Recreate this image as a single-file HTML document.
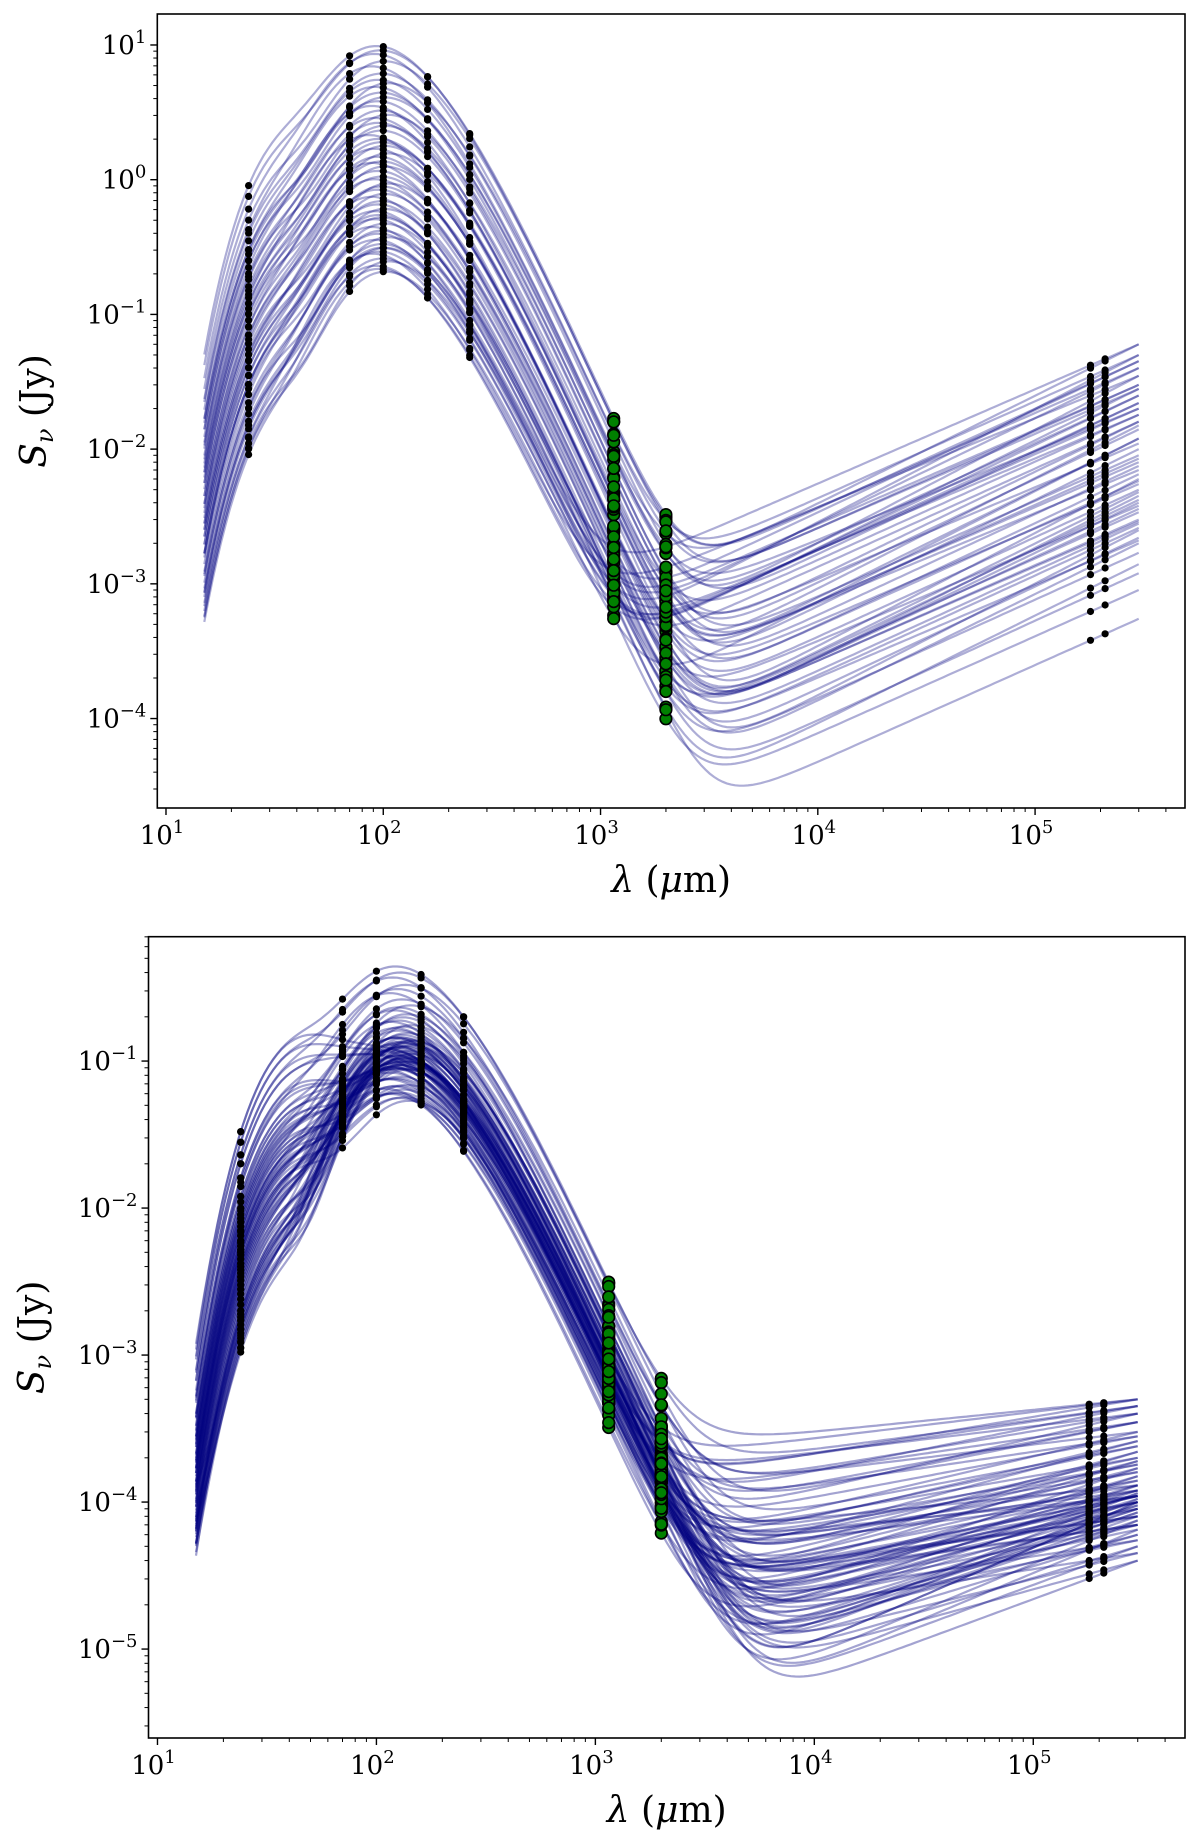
<!DOCTYPE html>
<html><head><meta charset="utf-8"><style>
html,body{margin:0;padding:0;background:#fff;}
svg{display:block;font-family:"DejaVu Serif","Liberation Serif",serif;}
</style></head><body>
<svg id="fig" width="1200" height="1848" viewBox="0 0 1200 1848" xmlns="http://www.w3.org/2000/svg"></svg>
<script>
// ---------- DATA: shared ----------
const bandsBlack = [24, 70, 100, 160, 250, 1.8e5, 2.1e5];
const bandsGreen = [1150, 2000];
const xTickExps = [1, 2, 3, 4, 5];
const topYTickExps = [1, 0, -1, -2, -3, -4];
const botYTickExps = [-1, -2, -3, -4, -5];

// ---------- DATA: top panel ----------
const topPeak = [9,8.5,8,7.2,6.5,5.8,5.2,5,4.6,4.2,3.9,3.6,3.3,3.1,2.9,2.7,2.5,2.4,2.2,2.0,1.9,1.8,1.7,1.6,1.5,1.4,1.3,1.25,1.2,1.1,1.0,0.95,0.9,0.85,0.8,0.75,0.7,0.66,0.62,0.58,0.55,0.52,0.5,0.48,0.45,0.42,0.4,0.38,0.36,0.34,0.32,0.3,0.28,0.27,0.25,0.24,0.22,0.21,0.2,0.3];
const topWarm24 = [0.9,0.75,0.6,0.5,0.42,0.4,0.35,0.3,0.3,0.28,0.25,0.25,0.22,0.2,0.19,0.18,0.16,0.15,0.14,0.13,0.12,0.12,0.11,0.1,0.1,0.09,0.08,0.08,0.07,0.07,0.065,0.06,0.055,0.05,0.05,0.045,0.045,0.04,0.04,0.035,0.035,0.03,0.03,0.03,0.028,0.025,0.022,0.02,0.02,0.018,0.016,0.015,0.014,0.012,0.012,0.011,0.01,0.009,0.01,0.015];
const topRadio = [0.06,0.045,0.05,0.03,0.04,0.022,0.035,0.028,0.016,0.025,0.02,0.012,0.018,0.014,0.009,0.015,0.011,0.0075,0.01,0.0085,0.006,0.008,0.0065,0.005,0.007,0.0045,0.0058,0.004,0.0055,0.0036,0.0048,0.003,0.0042,0.0028,0.0038,0.0025,0.0034,0.0022,0.0029,0.002,0.0026,0.0017,0.0021,0.0014,0.0012,0.0009,0.00055];
const topAlpha = [0.8,0.74,0.72,0.72,0.7,0.76,0.84,0.7,0.78,0.74,0.66,0.8,0.73,0.77,0.71,0.82,0.68,0.75,0.79,0.72,0.84,0.7,0.76,0.74,0.67,0.81,0.73,0.78,0.69,0.75,0.8,0.71,0.77,0.74,0.68,0.83,0.72,0.76,0.7,0.79,0.74,0.73,0.69];
const topTemp = [31,30,32,29,33,30,31,28,32,30,29,31,33,30,28,32,31,29,30,34,31,30,29,32,28,31,30,33,29,31,30,32,28,30,31,29,33,30,31,29,32];

// ---------- DATA: bottom panel ----------
const botPeak = [0.4,0.37,0.34,0.31,0.29,0.27,0.25,0.23,0.22,0.21,0.2,0.19,0.18,0.175,0.17,0.165,0.16,0.155,0.15,0.145,0.14,0.138,0.135,0.132,0.13,0.128,0.125,0.122,0.12,0.118,0.115,0.112,0.11,0.108,0.106,0.104,0.102,0.1,0.098,0.096,0.094,0.092,0.09,0.088,0.086,0.084,0.082,0.08,0.078,0.076,0.075,0.074,0.072,0.07,0.069,0.068,0.066,0.065,0.064,0.062,0.06,0.059,0.058,0.056,0.055,0.054,0.053,0.052,0.051,0.05,0.12,0.11,0.1,0.095,0.09,0.13,0.14,0.085,0.105,0.115,0.125,0.135,0.092,0.087,0.097,0.103,0.108,0.117,0.127,0.142];
const botWarm24 = [0.033,0.028,0.023,0.02,0.016,0.014,0.012,0.011,0.01,0.009,0.0085,0.008,0.0075,0.007,0.0065,0.006,0.0058,0.0055,0.0052,0.005,0.0048,0.0045,0.0042,0.004,0.0038,0.0036,0.0034,0.0032,0.003,0.0028,0.0026,0.0024,0.0022,0.002,0.0019,0.0018,0.0017,0.0016,0.0015,0.0014,0.0013,0.0012,0.0011,0.001,0.015,0.0095,0.0068];
const botRadio = [0.0005,0.00045,0.0004,0.00035,0.0003,0.00028,0.00026,0.00024,0.00022,0.0002,0.00019,0.00018,0.00017,0.00016,0.00015,0.00014,0.00013,0.00012,0.000115,0.00011,0.000105,0.0001,0.000095,0.00009,0.000085,0.00008,0.000075,0.00007,0.000065,0.00006,0.000055,0.00005,0.000045,0.00004,0.00011,0.0001,0.00012,0.0001,0.00009,0.00011,0.00008,0.00013,0.00007];
const botAlpha = [0.15,0.2,0.25,0.3,0.18,0.22,0.35,0.28,0.4,0.32,0.45,0.26,0.38,0.3,0.5,0.24,0.42,0.34,0.5,0.29,0.6,0.36,0.44,0.27,0.5,0.33,0.48,0.21,0.62,0.39,0.31,0.45,0.23,0.55,0.37,0.41,0.19,0.65,0.46,0.3,0.5];
const botTemp = [25,24,26,23,25,27,24,22,25,26,23,24,25,27,22,24,26,25,23,24,25,26,22,24,25,23,27,24,25,26,23,24,22,25,26,24,25];

// ---------- drawing ----------
const NS = "http://www.w3.org/2000/svg";
const svg = document.getElementById('fig');
function mk(tag, attrs, parent){ const e=document.createElementNS(NS,tag); for(const k in attrs) e.setAttribute(k,attrs[k]); (parent||svg).appendChild(e); return e; }

function mbbRaw(lam,T,beta){ const x=14388/(lam*T); return Math.pow(x,3+beta)/(Math.exp(x)-1); }
function mbbMax(beta){ let m=0; for(let x=0.5;x<15;x+=0.01){ const v=Math.pow(x,3+beta)/(Math.exp(x)-1); if(v>m)m=v;} return m; }

function model(lam,i,cfg){
  const g=(a)=>a[i%a.length];
  const cold = g(cfg.peak)*mbbRaw(lam,g(cfg.temp),cfg.beta)/cfg.norm;
  const warm = g(cfg.warm)*mbbRaw(lam,cfg.tw,cfg.beta)/mbbRaw(24,cfg.tw,cfg.beta);
  const radio = g(cfg.radio)*Math.pow(lam/3e5,g(cfg.alpha));
  return cold+warm+radio;
}

function panel(cfg){
  const {name,L,R,T,B,xlo,xhi,ylo,yhi} = cfg;
  cfg.norm = mbbMax(cfg.beta);
  const sx = v => L + (Math.log10(v)-xlo)/(xhi-xlo)*(R-L);
  const sy = v => B - (Math.log10(v)-ylo)/(yhi-ylo)*(B-T);
  const g = mk('g',{});
  
  
  const cp = mk('clipPath',{id:name+'-clip'},g);
  mk('rect',{x:L,y:T,width:R-L,height:B-T},cp);
  const plot = mk('g',{'clip-path':'url(#'+name+'-clip)'},g);
  
  
  const n = cfg.peak.length;
  for(let i=0;i<n;i++){
    let d='';
    for(let k=0;k<=220;k++){
      const lam = Math.pow(10, Math.log10(15) + k/220*(Math.log10(3e5)-Math.log10(15)));
      const f = model(lam,i,cfg);
      d += (k?'L':'M')+sx(lam).toFixed(1)+' '+sy(f).toFixed(1);
    }
    const p = mk('path',{d:d,fill:'none',stroke:'#000080','stroke-width':2.2,'stroke-opacity':cfg.op},plot);
    
    
  }
  for(const lam of bandsBlack){
    for(let i=0;i<n;i++){
      const c = mk('circle',{cx:sx(lam).toFixed(1),cy:sy(model(lam,i,cfg)).toFixed(1),r:3.6,fill:'#000'},plot);
      
      
    }
  }
  for(const lam of bandsGreen){
    for(let i=0;i<n;i++){
      const c = mk('circle',{cx:sx(lam).toFixed(1),cy:sy(model(lam,i,cfg)).toFixed(1),r:5.8,fill:'#008000',stroke:'#000','stroke-width':1.6},plot);
      
      
    }
  }
  const fr = mk('rect',{x:L,y:T,width:R-L,height:B-T,fill:'none',stroke:'#000','stroke-width':1.6},g);
  
  
  const xa = mk('g',{},g);
  
  
  for(let e=0;e<=6;e++){
    for(let m=1;m<10;m++){
      const v=m*Math.pow(10,e); const lv=Math.log10(v);
      if(lv<xlo||lv>xhi) continue;
      const x=sx(v);
      mk('line',{x1:x,x2:x,y1:B,y2:B+(m===1?7:4),stroke:'#000','stroke-width':m===1?1.4:1},xa);
    }
  }
  for(const e of xTickExps){
    const t = mk('text',{x:sx(Math.pow(10,e))-4,y:B+36,'text-anchor':'middle','font-size':26,fill:'#000'},xa);
    
    
    t.appendChild(document.createTextNode('10'));
    const s = mk('tspan',{dy:-11,'font-size':18},t); s.textContent=String(e);
  }
  const ya = mk('g',{},g);
  
  
  for(let e=-7;e<=2;e++){
    for(let m=1;m<10;m++){
      const v=m*Math.pow(10,e); const lv=Math.log10(v);
      if(lv<ylo||lv>yhi) continue;
      const y=sy(v);
      mk('line',{x1:L,x2:L-(m===1?7:4),y1:y,y2:y,stroke:'#000','stroke-width':m===1?1.4:1},ya);
    }
  }
  for(const e of cfg.yticks){
    const t = mk('text',{x:L-11,y:sy(Math.pow(10,e))+9,'text-anchor':'end','font-size':26,fill:'#000'},ya);
    
    
    t.appendChild(document.createTextNode('10'));
    const s = mk('tspan',{dy:-11,'font-size':18},t); s.textContent=(e<0?'\u2212'+(-e):String(e));
  }
  const xl = mk('text',{x:(L+R)/2,y:cfg.xlabY,'text-anchor':'middle','font-size':36,fill:'#000'},g);
  
  
  xl.innerHTML='<tspan font-style="italic">λ</tspan> (<tspan font-style="italic">μ</tspan>m)';
  const yl = mk('text',{x:0,y:0,'text-anchor':'middle','font-size':36,fill:'#000',transform:'translate('+cfg.ylabX+','+((T+B)/2)+') rotate(-90)'},g);
  
  
  yl.innerHTML='<tspan font-style="italic">S</tspan><tspan font-style="italic" font-size="24" dy="7">ν</tspan><tspan dy="-7"> (Jy)</tspan>';
}

panel({name:'top',L:157.3,R:1185,T:14,B:808,xlo:0.96,xhi:5.69,ylo:-4.664,yhi:1.23,
  peak:topPeak,warm:topWarm24,radio:topRadio,alpha:topAlpha,temp:topTemp,beta:1.8,tw:70,op:0.32,
  yticks:topYTickExps,xlabY:892,ylabX:46});
panel({name:'bottom',L:148.5,R:1185,T:936.7,B:1738,xlo:0.959,xhi:5.693,ylo:-5.605,yhi:-0.154,
  peak:botPeak,warm:botWarm24,radio:botRadio,alpha:botAlpha,temp:botTemp,beta:1.5,tw:65,op:0.36,
  yticks:botYTickExps,xlabY:1822,ylabX:44});
</script>
</body></html>
